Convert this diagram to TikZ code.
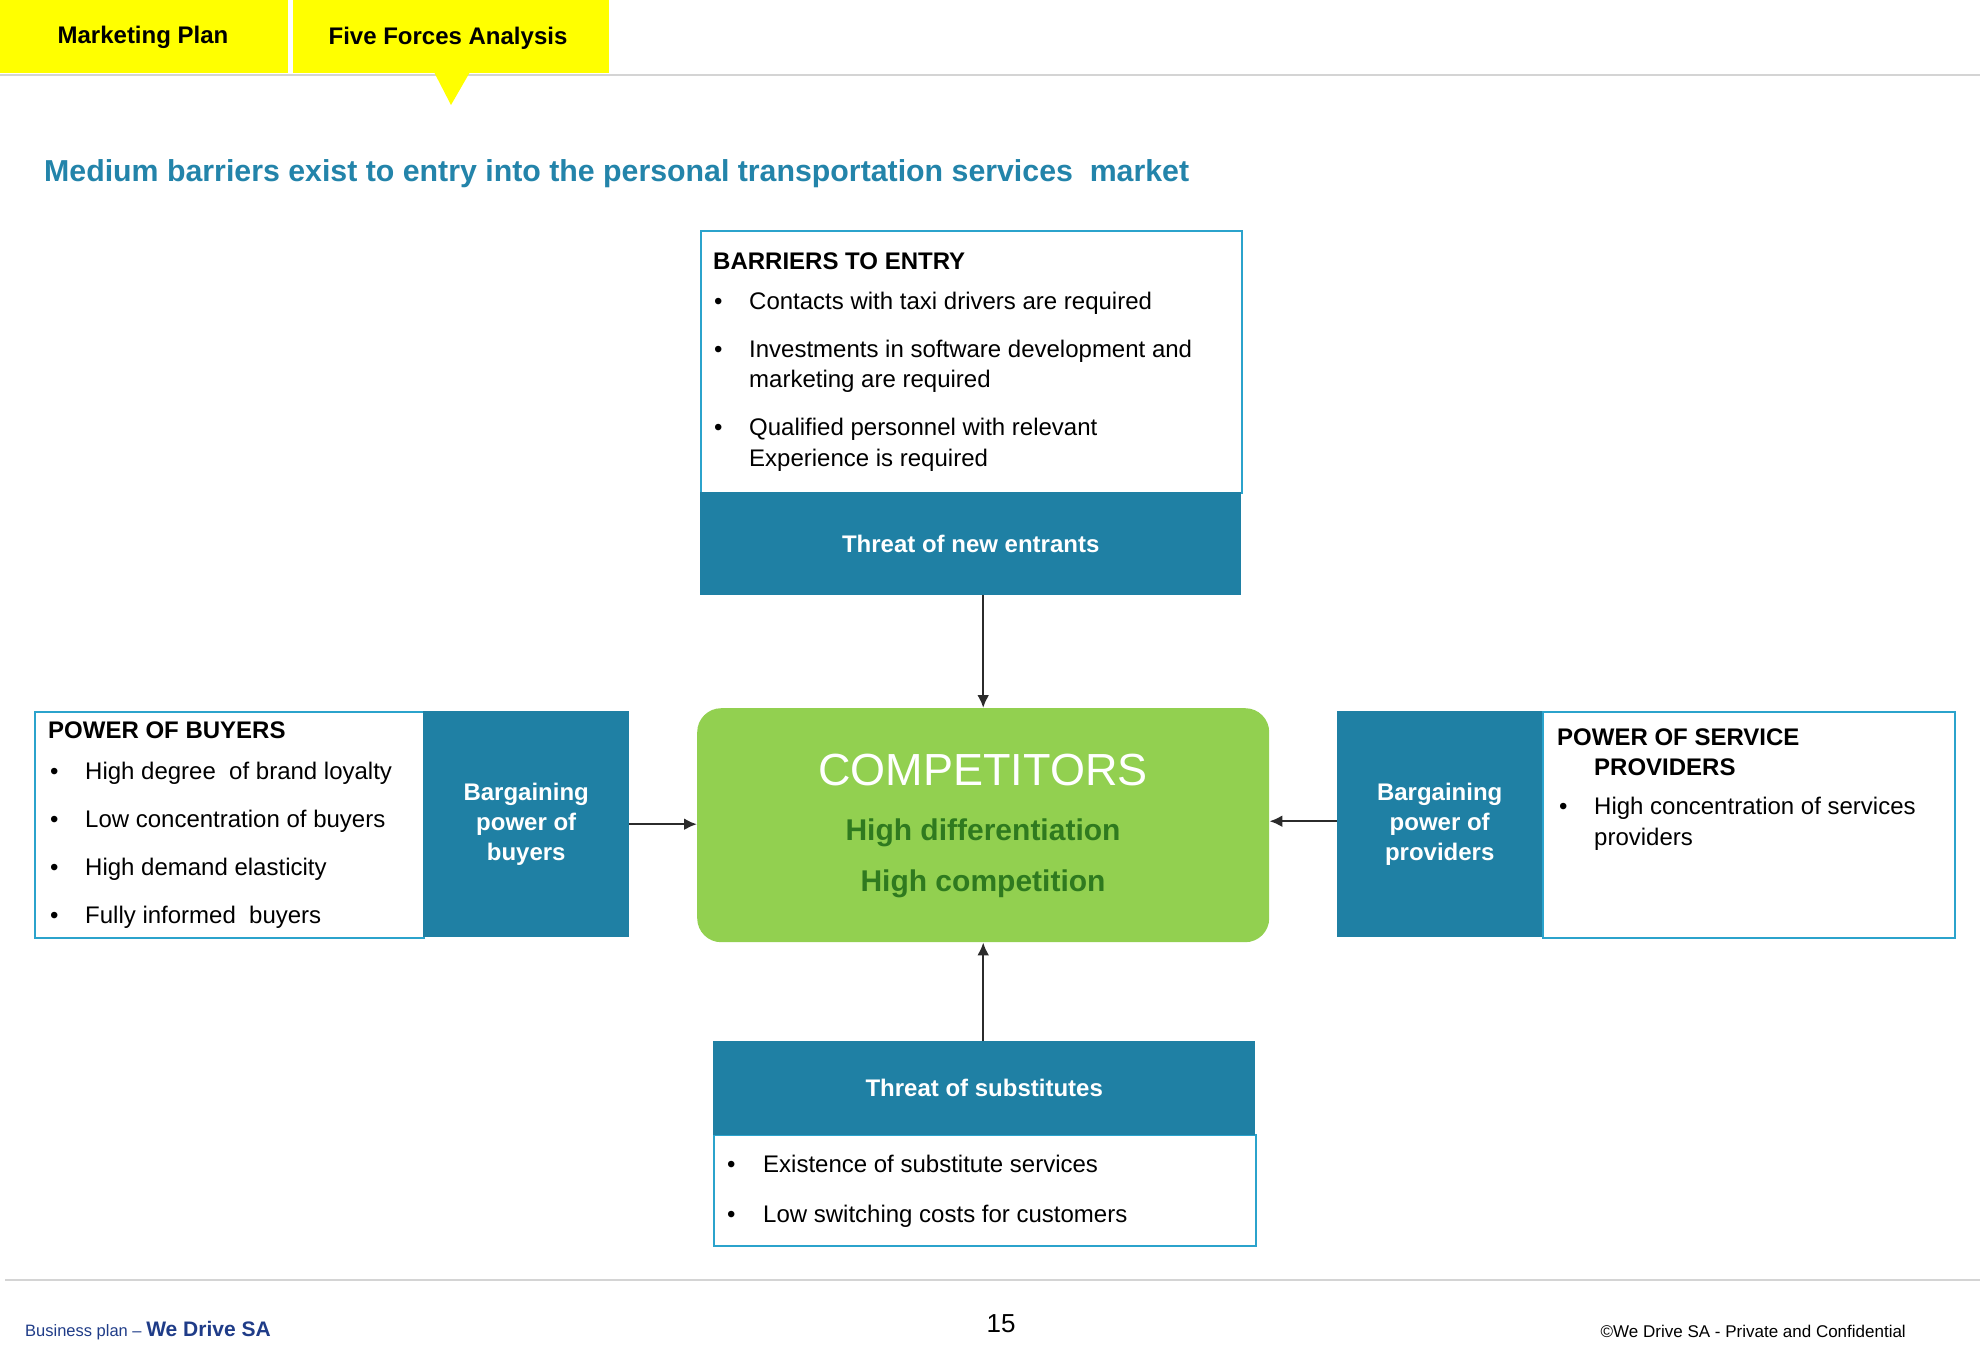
\documentclass[tikz,border=0pt]{standalone}
\usepackage{fontspec}
\setmainfont{Liberation Sans}
\usetikzlibrary{arrows.meta,calc}
\definecolor{tealfill}{HTML}{1F80A4}
\definecolor{tealline}{HTML}{2BA3CC}
\definecolor{titleblue}{HTML}{2384AA}
\definecolor{compgreen}{HTML}{92D050}
\definecolor{darkgreen}{HTML}{2F7A1F}
\definecolor{footblue}{HTML}{1F3C88}
\definecolor{yel}{HTML}{FFFF00}
\definecolor{greyline}{HTML}{D4D4D4}
\definecolor{arrowgrey}{HTML}{2B2B2B}
\tikzset{
 wbox/.style={draw=tealline, line width=2pt, fill=white, inner sep=0pt, anchor=north west},
 tbox/.style={fill=tealfill, inner sep=0pt, anchor=north west, text=white, font=\bfseries\fontsize{24}{30}\selectfont, align=center},
 body/.style={anchor=west, inner sep=0pt, font=\fontsize{24}{30}\selectfont, text height=18pt, text depth=5pt},
 head/.style={anchor=west, inner sep=0pt, font=\bfseries\fontsize{24}{30}\selectfont, text height=18pt, text depth=5pt},
 arr/.style={draw=arrowgrey, line width=2.5pt, -{Latex[length=13pt,width=12pt]}},
 tabbox/.style={fill=yel, inner sep=0pt, anchor=north west},
 tabtext/.style={inner sep=0pt, font=\bfseries\fontsize{24}{30}\selectfont},
}
\begin{document}
\begin{tikzpicture}[x=1pt,y=-1pt]
\useasboundingbox[fill=white] (0,0) rectangle (1980,1371);
% header
\draw[greyline, line width=2pt] (0,75) -- (1980,75);
\node[tabbox, minimum width=288pt, minimum height=73pt] (tabmp) at (0,0) {};
\node[tabbox, minimum width=316pt, minimum height=73pt] (tabff) at (293,0) {};
\fill[yel] (434,72) -- (470,72) -- (451,105) -- cycle;
\node[tabtext] (tabmpt) at (143,37) {Marketing Plan};
\node[tabtext] (tabfft) at (448,38) {Five Forces Analysis};
\node[anchor=west, inner sep=0pt, text=titleblue, font=\bfseries\fontsize{30.3}{36}\selectfont, text height=22pt, text depth=6pt] (title) at (44,173) {Medium barriers exist to entry into the personal transportation services\ \ market};
% barriers to entry
\node[wbox, minimum width=541pt, minimum height=262pt] (barbox) at (700,230) {};
\node[tbox, minimum width=541pt, minimum height=103pt] (newent) at (700,492) {Threat of new entrants};
\node[head] (barhead) at (713,263) {BARRIERS TO ENTRY};
\node[body] (barb1) at (714,303) {•};
\node[body] (bart1) at (749,303) {Contacts with taxi drivers are required};
\node[body] (barb2) at (714,351) {•};
\node[body] (bart2) at (749,351) {Investments in software development and};
\node[body] (bart2b) at (749,381) {marketing are required};
\node[body] (barb3) at (714,429) {•};
\node[body] (bart3) at (749,429) {Qualified personnel with relevant};
\node[body] (bart3b) at (749,460) {Experience is required};
% competitors
\node[fill=compgreen, rounded corners=24pt, anchor=north west, minimum width=572pt, minimum height=234pt, inner sep=0pt] (comp) at (697,708) {};
\node[inner sep=0pt, text=white, font=\fontsize{45}{54}\selectfont] (compt) at (983,770) {COMPETITORS};
\node[inner sep=0pt, text=darkgreen, font=\bfseries\fontsize{30}{36}\selectfont] (compd) at (983,833) {High differentiation};
\node[inner sep=0pt, text=darkgreen, font=\bfseries\fontsize{30}{36}\selectfont] (compc) at (983,884) {High competition};
% buyers
\node[wbox, minimum width=389pt, minimum height=226pt] (buybox) at (34,711) {};
\node[tbox, minimum width=206pt, minimum height=226pt] (bbuy) at (423,711) {Bargaining\\power of\\buyers};
\node[head] (buyhead) at (48,732) {POWER OF BUYERS};
\node[body] (buyb1) at (50,773) {•};
\node[body] (buyt1) at (85,773) {High degree\ \ of brand loyalty};
\node[body] (buyb2) at (50,821) {•};
\node[body] (buyt2) at (85,821) {Low concentration of buyers};
\node[body] (buyb3) at (50,869) {•};
\node[body] (buyt3) at (85,869) {High demand elasticity};
\node[body] (buyb4) at (50,917) {•};
\node[body] (buyt4) at (85,917) {Fully informed\ \ buyers};
% providers
\node[wbox, minimum width=412pt, minimum height=226pt] (provbox) at (1542,711) {};
\node[tbox, minimum width=205pt, minimum height=226pt] (bprov) at (1337,711) {Bargaining\\power of\\providers};
\node[head] (provhead) at (1557,739) {POWER OF SERVICE};
\node[head] (provhead2) at (1594,769) {PROVIDERS};
\node[body] (provb1) at (1559,808) {•};
\node[body] (provt1) at (1594,808) {High concentration of services};
\node[body] (provt1b) at (1594,839) {providers};
% substitutes
\node[wbox, minimum width=542pt, minimum height=111pt] (subbox) at (713,1134) {};
\node[tbox, minimum width=542pt, minimum height=94pt] (subst) at (713,1041) {Threat of substitutes};
\node[body] (subb1) at (727,1166) {•};
\node[body] (subt1) at (763,1166) {Existence of substitute services};
\node[body] (subb2) at (727,1216) {•};
\node[body] (subt2) at (763,1216) {Low switching costs for customers};
% connectors
\draw[arr] (comp.north |- newent.south) -- (comp.north);
\draw[arr] (bbuy.east) -- (bbuy.east -| comp.west);
\draw[arr] ($(bprov.west)+(0,-3)$) -- ($(bprov.west -| comp.east)+(0,-3)$);
\draw[arr] (comp.south |- subst.north) -- (comp.south);
% footer
\draw[greyline, line width=2pt] (5,1280) -- (1980,1280);
\node[anchor=base west, inner sep=0pt, text=footblue, font=\fontsize{16.5}{20}\selectfont] (footl) at (25,1336) {Business plan – {\bfseries\fontsize{21}{24}\selectfont We Drive SA}};
\node[inner sep=0pt, font=\fontsize{26}{30}\selectfont] (pagenum) at (1001,1324) {15};
\node[anchor=base east, inner sep=0pt, font=\fontsize{17}{20}\selectfont] (footr) at (1906,1337) {©We Drive SA - Private and Confidential};
\end{tikzpicture}
\end{document}
